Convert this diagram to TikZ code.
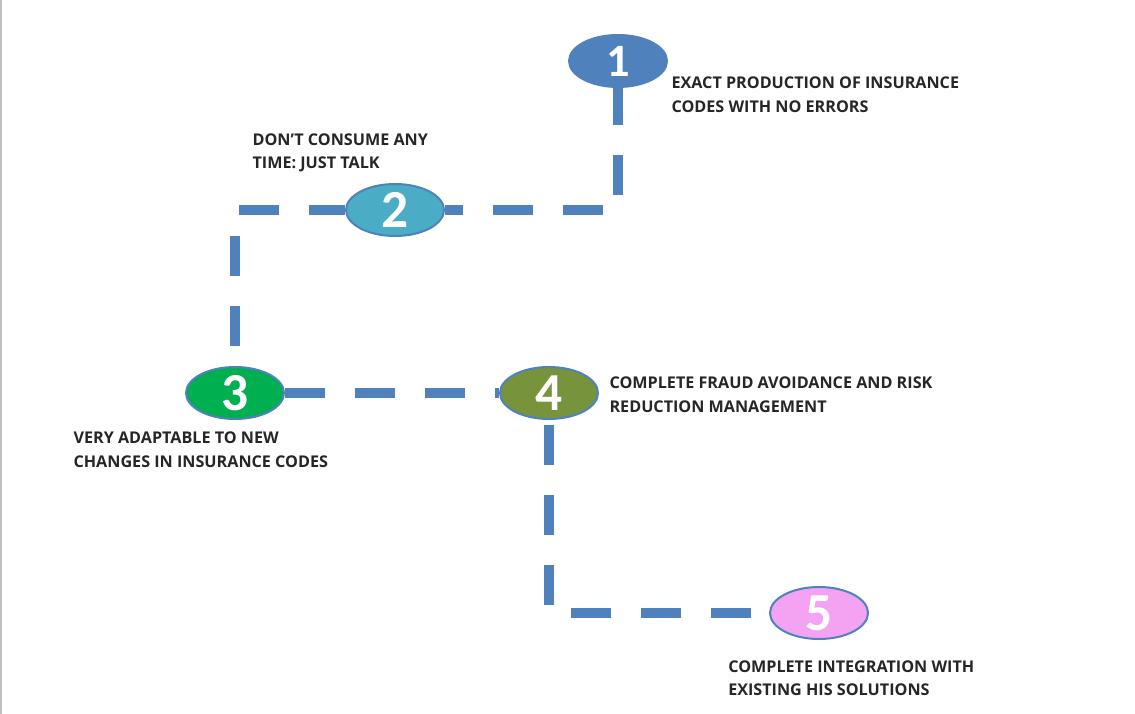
\documentclass[tikz,border=0pt]{standalone}
\usepackage{fontspec}
\setmainfont{Open Sans}
\newfontfamily\numfont{Carlito}
\usetikzlibrary{shapes.geometric}
\definecolor{linkblue}{HTML}{4F81BD}
\definecolor{notegray}{HTML}{262626}
\definecolor{fillcyan}{HTML}{4BACC6}
\definecolor{fillgreen}{HTML}{00B050}
\definecolor{fillolive}{HTML}{77933C}
\definecolor{fillpink}{HTML}{F4A3F2}
\begin{document}
\begin{tikzpicture}[x=0.25mm, y=-0.25mm, thick, bubble/.style = {ellipse, draw=linkblue, line width=0.5mm, minimum width=24.5mm, minimum height=13mm, inner sep=0pt, text=white, font=\numfont\bfseries\fontsize{38}{38}\selectfont}, note/.style = {anchor=north west, inner sep=0pt, align=left, text=notegray, font=\bfseries\fontsize{11.5}{16.5}\selectfont}, link/.style = {draw=linkblue, line width=2.5mm, dash pattern=on 10mm off 7.5mm}]
		\useasboundingbox (0,0) rectangle (1135,714);
		\draw[black!25, line width=0.5mm] (0.5,0) -- (0.5,714);
		
		\node[bubble, fill=linkblue, font=\numfont\bfseries\fontsize{33}{33}\selectfont] (n1) at (618,61) {1};
		\node[bubble, fill=fillcyan] (n2) at (395,210) {2};
		\node[bubble, fill=fillgreen] (n3) at (235,393) {3};
		\node[bubble, fill=fillolive] (n4) at (549,393) {4};
		\node[bubble, fill=fillpink] (n5) at (819,613) {5};
		
		\node[note] (t1) at (671,76.7) {EXACT PRODUCTION OF INSURANCE\\CODES WITH NO ERRORS};
		\node[note] (t2) at (252,133.3) {DON’T CONSUME ANY\\TIME: JUST TALK};
		\node[note] (t3) at (73,431.7) {VERY ADAPTABLE TO NEW\\CHANGES IN INSURANCE CODES};
		\node[note] (t4) at (609,376.7) {COMPLETE FRAUD AVOIDANCE AND RISK\\REDUCTION MANAGEMENT};
		\node[note] (t5) at (727.7,660) {COMPLETE INTEGRATION WITH\\EXISTING HIS SOLUTIONS};
		
		\draw[link, dash phase=0.75mm] (n1.south) |- (n2.east);
		\draw[link, dash phase=1mm] (n2.west) -| (n3.north);
		\draw[link] (n3.east) -- (n4.west);
		\draw[link, dash phase=16.25mm] (n4.south) |- (n5.west);
		\end{tikzpicture}
\end{document}
